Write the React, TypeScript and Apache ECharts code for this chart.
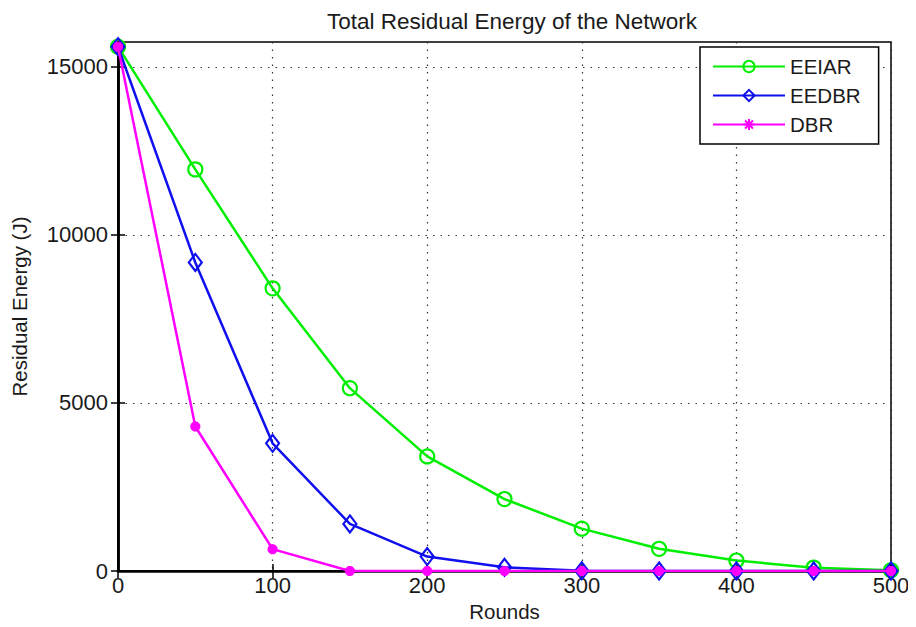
import React, { useEffect, useRef } from "react";
import * as echarts from "echarts";

const rounds = [0, 50, 100, 150, 200, 250, 300, 350, 400, 450, 500];
const eeiar = [15600, 11950, 8410, 5440, 3410, 2140, 1260, 660, 310, 100, 20];
const eedbr = [15600, 9180, 3800, 1400, 430, 110, 5, 0, 0, 0, 0];
const dbr = [15600, 4300, 650, 0, 0, 0, 0, 0, 0, 0, 0];
const seriesNames = ["EEIAR", "EEDBR", "DBR"];
const xTicks = [0, 100, 200, 300, 400, 500];
const yTicks = [0, 5000, 10000, 15000];

const FONT = "'Liberation Sans', Arial, sans-serif";

export default function App() {
  const ref = useRef<HTMLDivElement>(null);
  useEffect(() => {
    if (!ref.current) return;
    const chart = echarts.init(ref.current, null, { renderer: "svg" });
    const toPairs = (arr: number[]) => rounds.map((r, i) => [r, arr[i]]);
    const grid = "#333";
    const splitDash = { type: [1.5, 6] as any, color: grid, width: 1.2 };
    const plain = (v: number) => String(v);
    chart.setOption({
      animation: false,
      backgroundColor: "#fff",
      title: {
        text: "Total Residual Energy of the Network",
        left: 507,
        textAlign: "center",
        top: 5,
        textStyle: { fontFamily: FONT, fontSize: 22.5, fontWeight: "normal", color: "#1a1a1a" },
      },
      legend: {
        orient: "vertical",
        left: 700,
        top: 47,
        padding: [9, 18, 9, 12],
        itemWidth: 72,
        itemHeight: 14,
        itemGap: 8,
        borderColor: "#000",
        borderWidth: 1.5,
        borderRadius: 0,
        backgroundColor: "#fff",
        textStyle: { fontFamily: FONT, fontSize: 20.5, color: "#1a1a1a" },
        data: seriesNames,
      },
      grid: {
        left: 118,
        right: 25,
        top: 42,
        bottom: 56,
        show: true,
        borderColor: "#000",
        borderWidth: 1.5,
      },
      xAxis: [
        {
          type: "value",
          min: 0,
          max: 500,
          interval: 100,
          name: "Rounds",
          nameLocation: "middle",
          nameGap: 28,
          nameTextStyle: { fontFamily: FONT, fontSize: 20.5, color: "#1a1a1a" },
          axisLine: { lineStyle: { color: "#000", width: 2.5 } },
          axisTick: { inside: true, length: 7, lineStyle: { color: "#000", width: 1.5 } },
          axisLabel: {
            fontFamily: FONT,
            fontSize: 22,
            color: "#1a1a1a",
            margin: 3,
            formatter: plain,
            customValues: xTicks,
          },
          splitLine: { show: true, lineStyle: splitDash },
        },
        {
          type: "value",
          position: "top",
          min: 0,
          max: 500,
          interval: 100,
          axisLine: { show: true, lineStyle: { color: "#000", width: 2 } },
          axisTick: { inside: true, length: 7, lineStyle: { color: "#000", width: 1.5 } },
          axisLabel: { show: false },
          splitLine: { show: false },
        },
      ],
      yAxis: [
        {
          type: "value",
          min: 0,
          max: 15740,
          interval: 5000,
          name: "Residual Energy (J)",
          nameLocation: "middle",
          nameGap: 88,
          nameTextStyle: { fontFamily: FONT, fontSize: 20.5, color: "#1a1a1a" },
          axisLine: { show: true, lineStyle: { color: "#000", width: 2.5 } },
          axisTick: {
            show: true,
            inside: true,
            length: 7,
            lineStyle: { color: "#000", width: 1.5 },
            customValues: yTicks,
          },
          axisLabel: {
            fontFamily: FONT,
            fontSize: 22,
            color: "#1a1a1a",
            margin: 10,
            formatter: plain,
            customValues: yTicks,
          },
          splitLine: { show: true, lineStyle: splitDash },
        },
        {
          type: "value",
          position: "right",
          min: 0,
          max: 15740,
          interval: 5000,
          axisLine: { show: true, lineStyle: { color: "#000", width: 2.5 } },
          axisTick: {
            show: true,
            inside: true,
            length: 7,
            lineStyle: { color: "#000", width: 1.5 },
            customValues: yTicks,
          },
          axisLabel: { show: false },
          splitLine: { show: false },
        },
      ],
      series: [
        {
          name: "EEIAR",
          type: "line",
          data: toPairs(eeiar),
          symbol: "circle",
          symbolSize: 14,
          lineStyle: { color: "#00ee00", width: 2.5 },
          itemStyle: { color: "rgba(0,0,0,0)", borderColor: "#00ee00", borderWidth: 2.2 },
          z: 3,
        },
        {
          name: "EEDBR",
          type: "line",
          data: toPairs(eedbr),
          symbol: "diamond",
          symbolSize: [13, 17],
          lineStyle: { color: "#1010ee", width: 2.5 },
          itemStyle: { color: "rgba(0,0,0,0)", borderColor: "#1010ee", borderWidth: 2.2 },
          z: 4,
        },
        {
          name: "DBR",
          type: "line",
          data: toPairs(dbr),
          symbol:
            "path://M5,0 L5,10 M0,5 L10,5 M1.5,1.5 L8.5,8.5 M1.5,8.5 L8.5,1.5",
          symbolSize: 10,
          lineStyle: { color: "#ff00ff", width: 2.5 },
          itemStyle: { color: "#ff00ff", borderColor: "#ff00ff", borderWidth: 3.5 },
          z: 5,
        },
      ],
    });
    return () => chart.dispose();
  }, []);
  return <div ref={ref} style={{ width: 916, height: 627, margin: -8 }} />;
}
